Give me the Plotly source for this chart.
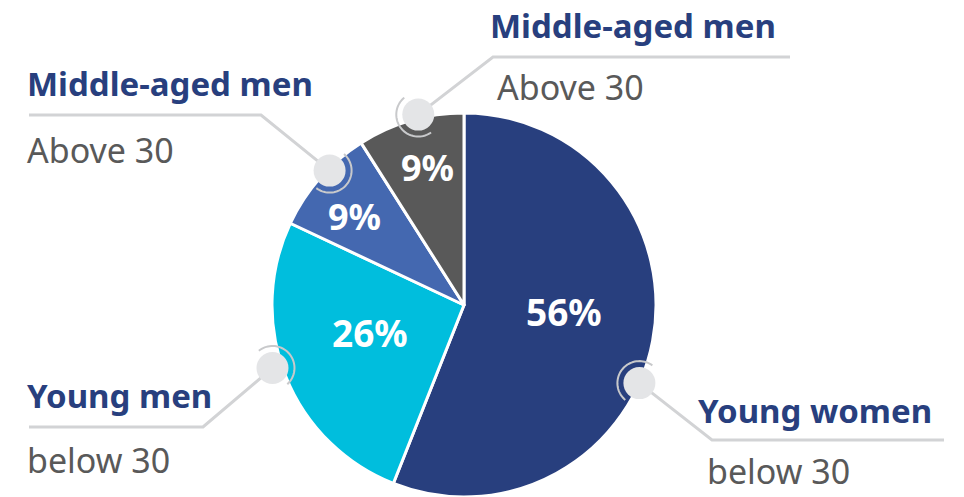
import math
import plotly.graph_objects as go

# ---------------- data ----------------
categories = ["Young women", "Young men", "Middle-aged men", "Middle-aged men"]
subtitles = ["below 30", "below 30", "Above 30", "Above 30"]
values = [56, 26, 9, 9]

# ---------------- style ----------------
W, H = 964, 497
slice_colors = ["#283F7E", "#00BEDD", "#4468B0", "#595959"]
title_color = "#283F7E"
sub_color = "#595959"
line_color = "#D2D3D5"
marker_fill = "#E4E5E7"
arc_color = "#C8C9CB"
FONT = "Noto Sans"

CX, CY, R = 464, 305, 192          # pie centre / radius in page pixels

pct_angle_off = [-7.0, 5.5, -2.5, 1.5]   # degrees
pct_radius = [0.52, 0.51, 0.73, 0.74]    # fraction of radius
pct_size = [37, 37, 36, 36]

mk_angle_off = [13.2, 3.4, 3.6, 2.7]
mk_radius = [1.0, 1.05, 0.99, 1.02]
mk_r = 16
arc_r = 22
arc_half = 88

# leader line elbow and end points (pixels)
elbows = [(712, 440), (203, 427), (261, 115), (493, 57)]
ends = [(944, 440), (29, 427), (29, 115), (790, 57)]
# label anchors (left x, cap-centre y) for title and subtitle
title_pos = [(696, 410), (25, 395), (25, 83), (488, 25)]
sub_pos = [(705, 471), (25, 460), (25, 150), (495, 87)]
title_size = 33
sub_size = 34

# ---------------- figure ----------------
fig = go.Figure()

fig.add_trace(go.Pie(
    values=values,
    labels=[f"{c} {s} #{i}" for i, (c, s) in enumerate(zip(categories, subtitles))],
    sort=False,
    direction="clockwise",
    rotation=0,
    marker=dict(colors=slice_colors, line=dict(color="white", width=3)),
    textinfo="none",
    hoverinfo="skip",
    showlegend=False,
    domain=dict(x=[(CX - R) / W, (CX + R) / W], y=[1 - (CY + R) / H, 1 - (CY - R) / H]),
))

# invisible trace to establish the pixel overlay axes
fig.add_trace(go.Scatter(x=[0], y=[0], mode="markers", marker=dict(opacity=0),
                         hoverinfo="skip", showlegend=False))

total = sum(values)
cum = 0
shapes = []
annotations = []


def pt(theta_deg, rad):
    t = math.radians(theta_deg)
    return CX + rad * math.sin(t), CY - rad * math.cos(t)


for i, v in enumerate(values):
    start = cum / total * 360
    cum += v
    end = cum / total * 360
    mid = (start + end) / 2

    # percentage label
    px, py = pt(mid + pct_angle_off[i], R * pct_radius[i])
    annotations.append(dict(x=px, y=py, xref="x", yref="y", showarrow=False,
                            text=f"<b>{round(v / total * 100)}%</b>",
                            font=dict(family=FONT, size=pct_size[i], color="white"),
                            xanchor="center", yanchor="middle"))

    # marker position
    mx, my = pt(mid + mk_angle_off[i], R * mk_radius[i])
    ex, ey = elbows[i]
    fx, fy = ends[i]
    shapes.append(dict(type="path", xref="x", yref="y", layer="above",
                       path=f"M {mx:.2f} {my:.2f} L {ex} {ey} L {fx} {fy}",
                       line=dict(color=line_color, width=3)))

    # arc opposite to the leader line
    ldir = math.degrees(math.atan2(ex - mx, -(ey - my)))
    ac = ldir + 180
    pts = []
    n = 40
    for k in range(n + 1):
        a = math.radians(ac - arc_half + 2 * arc_half * k / n)
        pts.append((mx + arc_r * math.sin(a), my - arc_r * math.cos(a)))
    path = "M " + " L ".join(f"{x:.2f} {y:.2f}" for x, y in pts)
    shapes.append(dict(type="path", xref="x", yref="y", layer="above", path=path,
                       line=dict(color=arc_color, width=2)))

    shapes.append(dict(type="circle", xref="x", yref="y", layer="above",
                       x0=mx - mk_r, x1=mx + mk_r, y0=my - mk_r, y1=my + mk_r,
                       fillcolor=marker_fill, line=dict(width=0)))

    tx, ty = title_pos[i]
    annotations.append(dict(x=tx, y=ty, xref="x", yref="y", showarrow=False,
                            text=f"<b>{categories[i]}</b>",
                            font=dict(family=FONT, size=title_size, color=title_color),
                            xanchor="left", yanchor="middle"))
    sx, sy = sub_pos[i]
    annotations.append(dict(x=sx, y=sy, xref="x", yref="y", showarrow=False,
                            text=subtitles[i],
                            font=dict(family=FONT, size=sub_size, color=sub_color),
                            xanchor="left", yanchor="middle"))

fig.update_layout(
    width=W, height=H,
    margin=dict(l=0, r=0, t=0, b=0),
    paper_bgcolor="white", plot_bgcolor="rgba(0,0,0,0)",
    xaxis=dict(range=[0, W], visible=False, fixedrange=True, domain=[0, 1]),
    yaxis=dict(range=[H, 0], visible=False, fixedrange=True, domain=[0, 1]),
    shapes=shapes,
    annotations=annotations,
    font=dict(family=FONT),
)

fig.write_html("out.html", config={"displayModeBar": False},
               post_script="document.body.style.margin='0';document.body.style.overflow='hidden';")
